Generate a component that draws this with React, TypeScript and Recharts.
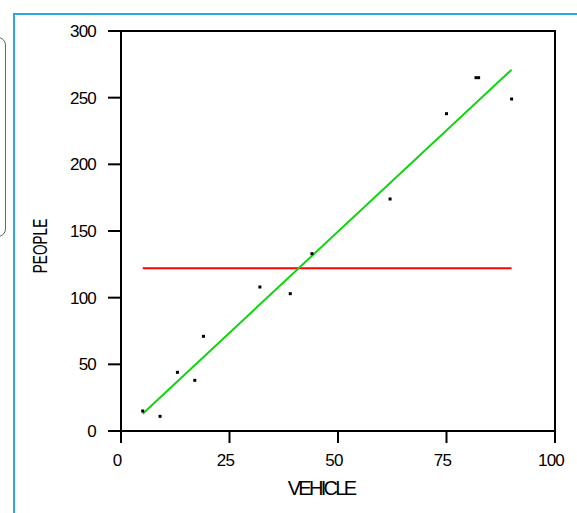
import React from 'react';
import { ComposedChart, XAxis, YAxis, Scatter, ReferenceArea, Label } from 'recharts';

const vehicle = [5, 9, 13, 17, 19, 32, 39, 44, 62, 75, 81.8, 82.4, 90];
const people = [15, 11, 44, 38, 71, 108, 103, 133, 174, 238, 265, 265, 249];
const fitX = [5, 90];
const fitY = [13, 271];
const meanX = [5, 90];
const meanY = [122, 122];
const xTicks = [0, 25, 50, 75, 100];
const yTicks = [0, 50, 100, 150, 200, 250, 300];

const points = vehicle.map((v, i) => ({ x: v, y: people[i] }));
const fitLine = fitX.map((v, i) => ({ x: v, y: fitY[i] }));
const meanLine = meanX.map((v, i) => ({ x: v, y: meanY[i] }));

const FONT = '"Liberation Sans", Arial, sans-serif';

const Square = (props: any) => {
  const { cx, cy } = props;
  if (cx == null || cy == null) return <g />;
  return <rect x={cx - 1.5} y={cy - 1.5} width={3} height={3} fill="#000" />;
};
const Empty = () => <g />;

export default function App() {
  return (
    <div style={{ position: 'absolute', left: 0, top: 0, width: 577, height: 513, overflow: 'hidden', background: '#fff' }}>
      <div style={{ position: 'absolute', left: 13, top: 13, width: 600, height: 560, border: '2px solid #2aa8e0', boxSizing: 'border-box' }} />
      <div style={{ position: 'absolute', left: -12, top: 37, width: 18, height: 200, border: '1px solid #666', borderRadius: 8, boxSizing: 'border-box' }} />
      <div style={{ position: 'absolute', left: 0, top: 0 }}>
        <ComposedChart width={577} height={513} margin={{ top: 31, right: 22, left: 0, bottom: 0 }}>
          <XAxis
            type="number"
            dataKey="x"
            domain={[0, 100]}
            ticks={xTicks}
            interval={0}
            height={82}
            tickSize={12}
            tickMargin={11}
            stroke="#000"
            strokeWidth={2}
            tick={{ fill: '#000', fontSize: 17, fontFamily: FONT, letterSpacing: -0.8, dx: -4 }}
          >
            <Label
              content={() => (
                <text x={321} y={495} textAnchor="middle" fontSize={20} fontFamily={FONT} letterSpacing={-2.7} fill="#000">
                  VEHICLE
                </text>
              )}
            />
          </XAxis>
          <YAxis
            type="number"
            dataKey="y"
            domain={[0, 300]}
            ticks={yTicks}
            interval={0}
            width={121}
            tickSize={13}
            tickMargin={12}
            stroke="#000"
            strokeWidth={2}
            tick={{ fill: '#000', fontSize: 17, fontFamily: FONT, letterSpacing: -0.8 }}
          >
            <Label
              content={() => (
                <text
                  x={0}
                  y={0}
                  textAnchor="middle"
                  fontSize={20}
                  fontFamily={FONT}
                  fill="#000"
                  transform="translate(47, 246) rotate(-90) scale(0.68, 1)"
                >
                  PEOPLE
                </text>
              )}
            />
          </YAxis>
          <ReferenceArea x1={0} x2={100} y1={0} y2={300} stroke="#000" strokeWidth={2} fill="none" fillOpacity={0} ifOverflow="visible" />
          <Scatter data={meanLine} line={{ stroke: '#ff0000', strokeWidth: 2 }} shape={Empty} isAnimationActive={false} />
          <Scatter data={fitLine} line={{ stroke: '#11d411', strokeWidth: 2 }} shape={Empty} isAnimationActive={false} />
          <Scatter data={points} shape={Square} isAnimationActive={false} />
        </ComposedChart>
      </div>
    </div>
  );
}
